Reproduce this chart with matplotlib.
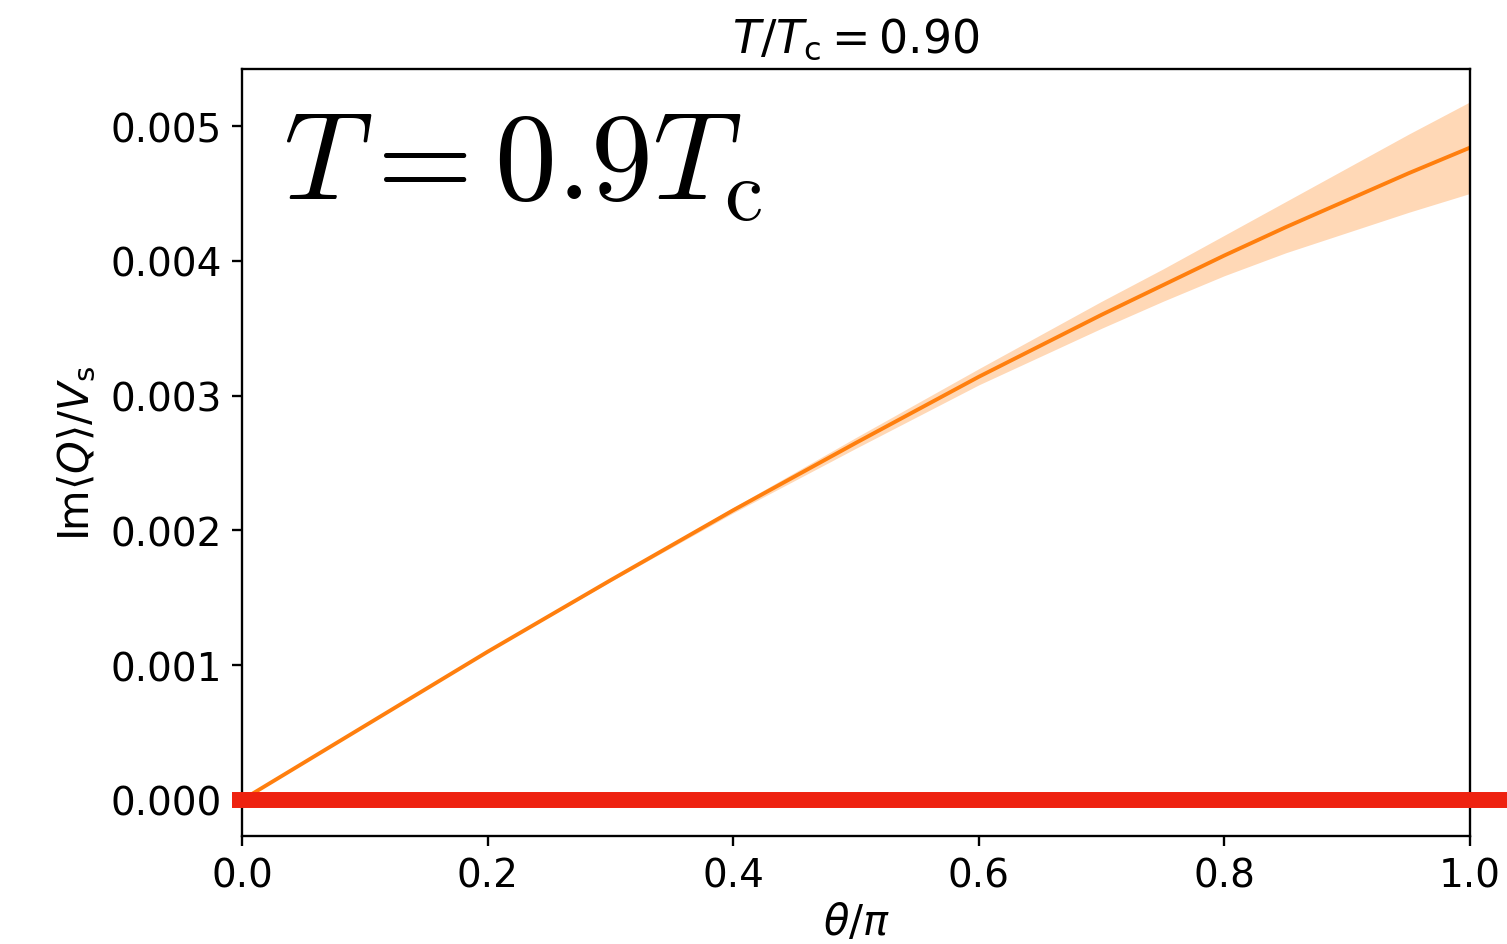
import numpy as np
import matplotlib
matplotlib.use('Agg')
import matplotlib.pyplot as plt

# imaginary part of the topological charge density vs theta
theta = [0.0, 0.1, 0.2, 0.3, 0.4, 0.5, 0.6, 0.65, 0.7, 0.75, 0.8, 0.85, 0.9, 0.95, 1.0]
im_q = [0.0, 0.00055, 0.00110, 0.00163, 0.00215, 0.00265, 0.00314, 0.00337, 0.00360, 0.00382,
        0.00404, 0.00425, 0.00445, 0.00465, 0.00484]
im_q_err = [0.0, 0.0, 0.0, 0.00001, 0.00002, 0.00004, 0.00006, 0.00008, 0.00010, 0.00012,
            0.00015, 0.00019, 0.00024, 0.00029, 0.00034]

# zero reference line
zero_x = [-0.008, 1.2]
zero_y = [0.0, 0.0]

s = 2.1
plt.rcParams['font.size'] = 28
plt.rcParams['axes.linewidth'] = 0.8 * s
plt.rcParams['xtick.major.size'] = 3.5 * s
plt.rcParams['ytick.major.size'] = 3.5 * s
plt.rcParams['xtick.major.width'] = 0.8 * s
plt.rcParams['ytick.major.width'] = 0.8 * s
plt.rcParams['xtick.major.pad'] = 3.5 * s
plt.rcParams['ytick.major.pad'] = 3.5 * s
plt.rcParams['axes.labelpad'] = 4.0 * s
plt.rcParams['axes.titlepad'] = 6.0 * s

theta = np.array(theta)
im_q = np.array(im_q)
im_q_err = np.array(im_q_err)

fig = plt.figure(figsize=(15.07, 9.45), dpi=100)
ax = fig.add_axes([0.1606, 0.1143, 0.8149, 0.8116])

ax.fill_between(theta, im_q - im_q_err, im_q + im_q_err, color='C1', alpha=0.3, linewidth=0)
ax.plot(theta, im_q, color='C1', linewidth=2.8)
ax.plot(zero_x, zero_y, color='#ee2210', linewidth=11.5, solid_capstyle='butt', clip_on=False, zorder=5)

ax.set_xlim(0, 1)
ax.set_ylim(-0.000267, 0.005423)
ax.set_xticks([0.0, 0.2, 0.4, 0.6, 0.8, 1.0])
ax.set_yticks([0.0, 0.001, 0.002, 0.003, 0.004, 0.005])
ax.set_yticklabels(['0.000', '0.001', '0.002', '0.003', '0.004', '0.005'])

ax.set_xlabel(r'$\theta/\pi$', fontsize=30, labelpad=4.5)
ax.set_ylabel(r'$\mathrm{Im}\langle Q\rangle/V_{\mathrm{s}}$', fontsize=30)
ax.set_title(r'$T/T_{\mathrm{c}} = 0.90$', fontsize=33)

ax.text(0.033, 0.83, r'$T = 0.9T_{\mathrm{c}}$', transform=ax.transAxes,
        fontsize=89, math_fontfamily='cm', va='baseline', ha='left')

fig.savefig('out.png', dpi=100)
